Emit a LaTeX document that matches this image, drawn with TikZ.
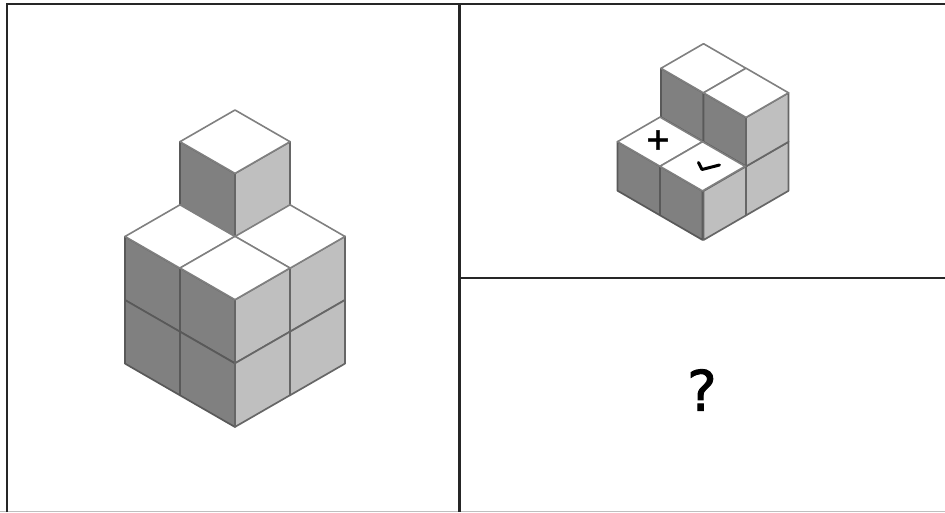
\documentclass[tikz,border=0pt]{standalone}
\usepackage{fontspec}
\setmainfont{DejaVu Sans}
\newfontfamily\heavyfont[FakeBold=1.6]{DejaVu Sans}
\usetikzlibrary{calc}

\begin{document}
\begin{tikzpicture}[
  x=1pt, y=-1pt,
  frameline/.style={draw=black!85, line width=2.4pt},
  lface/.style={draw=black!65, line width=1.7pt, line join=round, fill=black!50},
  rface/.style={draw=black!60, line width=1.7pt, line join=round, fill=black!25},
  tface/.style={draw=black!50, line width=1.6pt, line join=round, fill=white},
  sign/.style={inner sep=0pt, text=black},
]
  \useasboundingbox (0,0) rectangle (945,512);
  \fill[white] (0,0) rectangle (945,512);

  %% Panel frame
  \draw[black!25, line width=1pt] (0,511.5) -- (945,511.5);
  \draw[frameline] (7,512) -- (7,4) -- (945,4);
  \draw[frameline] (459.5,4) -- (459.5,512);
  \draw[frameline] (459.5,278) -- (945,278);

  %% Large stack: side faces, then tops
  \foreach \px/\py in {125/236.5, 180/268, 125/300, 180/331.7, 180/141.7}
    \draw[lface] (\px,\py) -- ++(55,31.7) -- ++(0,63.6) -- ++(-55,-31.7) -- cycle;
  \foreach \px/\py in {235/299.7, 290/268, 235/363.3, 290/331.7, 235/173.4}
    \draw[rface] (\px,\py) -- ++(55,-31.7) -- ++(0,63.6) -- ++(-55,31.7) -- cycle;
  \foreach \px/\py in {125/236.5, 235/236.5, 180/268, 180/141.7}
    \draw[tface] (\px,\py) -- ++(55,-31.7) -- ++(55,31.7) -- ++(-55,31.7) -- cycle;

  %% Small stack: side faces, then tops
  \foreach \px/\py in {617.5/141.7, 660/166.3, 661/68.3, 703.5/92.8}
    \draw[lface] (\px,\py) -- ++(42.5,24.6) -- ++(0,49) -- ++(-42.5,-24.6) -- cycle;
  \foreach \px/\py in {703.5/191, 746/166.4, 746/117.4}
    \draw[rface] (\px,\py) -- ++(42.5,-24.6) -- ++(0,49) -- ++(-42.5,24.6) -- cycle;
  \foreach \px/\py in {661/68.3, 703.5/92.8, 617.5/141.7, 660/166.3}
    \draw[tface] (\px,\py) -- ++(42.5,-24.6) -- ++(42.5,24.6) -- ++(-42.5,24.6) -- cycle;

  %% Marks on the small stack
  \node[sign, font=\heavyfont\fontsize{31}{31}\selectfont] (plus) at (658,140) {+};
  \draw[black, line width=3pt, line join=round, line cap=round]
    (698.5,162.5) -- (702,169.5) -- (719.5,165);

  %% Missing view
  \node[sign, font=\heavyfont\fontsize{56}{56}\selectfont] (query) at (702,390) {?};
\end{tikzpicture}
\end{document}
